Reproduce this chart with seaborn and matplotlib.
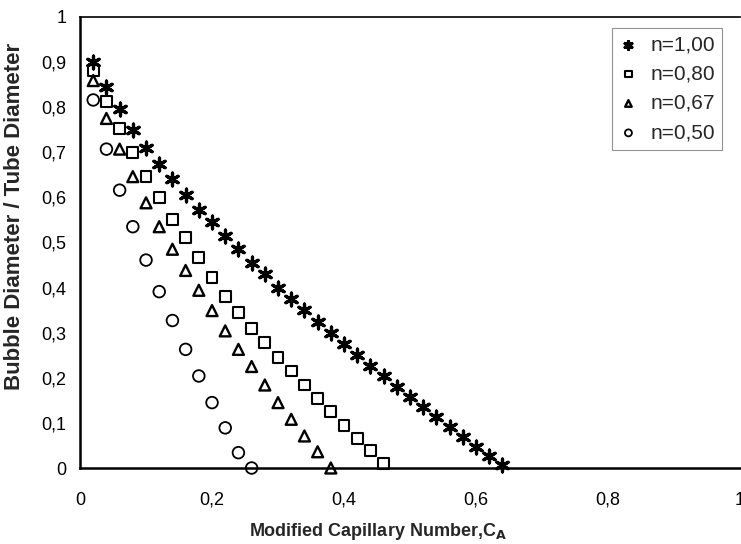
import numpy as np
import pandas as pd
import matplotlib
matplotlib.use("Agg")
import matplotlib.pyplot as plt
import seaborn as sns
from matplotlib.ticker import FuncFormatter

# Data
ca_100 = [0.02, 0.04, 0.06, 0.08, 0.10, 0.12, 0.14, 0.16, 0.18, 0.20, 0.22, 0.24, 0.26, 0.28, 0.30, 0.32,
          0.34, 0.36, 0.38, 0.40, 0.42, 0.44, 0.46, 0.48, 0.50, 0.52, 0.54, 0.56, 0.58, 0.60, 0.62, 0.64]
ratio_100 = [0.90, 0.845, 0.797, 0.75, 0.71, 0.675, 0.64, 0.605, 0.573, 0.545, 0.515, 0.485, 0.455, 0.43, 0.40, 0.375,
             0.35, 0.324, 0.299, 0.274, 0.25, 0.227, 0.204, 0.18, 0.158, 0.136, 0.114, 0.092, 0.069, 0.047, 0.027, 0.007]

ca_080 = [0.02, 0.04, 0.06, 0.08, 0.10, 0.12, 0.14, 0.16, 0.18, 0.20, 0.22, 0.24,
          0.26, 0.28, 0.30, 0.32, 0.34, 0.36, 0.38, 0.40, 0.42, 0.44, 0.46]
ratio_080 = [0.881, 0.812, 0.753, 0.70, 0.647, 0.60, 0.552, 0.511, 0.466, 0.422, 0.381, 0.344,
             0.31, 0.278, 0.245, 0.215, 0.184, 0.154, 0.125, 0.095, 0.066, 0.038, 0.010]

ca_067 = [0.02, 0.04, 0.06, 0.08, 0.10, 0.12, 0.14, 0.16, 0.18, 0.20,
          0.22, 0.24, 0.26, 0.28, 0.30, 0.32, 0.34, 0.36, 0.38]
ratio_067 = [0.859, 0.775, 0.707, 0.646, 0.588, 0.535, 0.485, 0.438, 0.394, 0.349,
             0.304, 0.263, 0.225, 0.184, 0.145, 0.108, 0.071, 0.036, 0.0]

ca_050 = [0.02, 0.04, 0.06, 0.08, 0.10, 0.12, 0.14, 0.16, 0.18, 0.20, 0.22, 0.24, 0.26]
ratio_050 = [0.816, 0.707, 0.616, 0.535, 0.461, 0.391, 0.327, 0.263, 0.204, 0.145, 0.089, 0.034, 0.0]

labels = ["n=1,00", "n=0,80", "n=0,67", "n=0,50"]

sns.set_theme(style="white")
plt.rcParams["font.family"] = ["Liberation Sans", "DejaVu Sans"]

fig = plt.figure(figsize=(7.41, 5.44), dpi=100)
ax = fig.add_axes([0.108, 0.1397, 0.8907, 0.8291])

# n=1,00 asterisk (line marker)
sns.scatterplot(x=ca_100, y=ratio_100, ax=ax, marker=(6, 2, 0), s=85, color="black",
                linewidth=2.3, label=labels[0], clip_on=False, zorder=3)
sns.scatterplot(x=ca_080, y=ratio_080, ax=ax, marker="s", s=62, facecolor="none",
                edgecolor="black", linewidth=1.5, label=labels[1], clip_on=False, zorder=3)
sns.scatterplot(x=ca_067, y=ratio_067, ax=ax, marker="^", s=62, facecolor="none",
                edgecolor="black", linewidth=1.7, label=labels[2], clip_on=False, zorder=3)
sns.scatterplot(x=ca_050, y=ratio_050, ax=ax, marker="o", s=70, facecolor="none",
                edgecolor="black", linewidth=1.3, label=labels[3], clip_on=False, zorder=3)

ax.set_xlim(0, 1)
ax.set_ylim(0, 1)
ax.set_xticks(np.arange(0, 1.01, 0.2))
ax.set_yticks(np.arange(0, 1.01, 0.1))
fmt = FuncFormatter(lambda v, p: ("%g" % round(v, 2)).replace(".", ","))
ax.xaxis.set_major_formatter(fmt)
ax.yaxis.set_major_formatter(fmt)
ax.tick_params(axis="both", direction="out", length=4, width=0.8, color="#666666",
               labelsize=13, pad=6, labelcolor="black")
ax.tick_params(axis="x", pad=13)

for side in ["left", "bottom"]:
    ax.spines[side].set_linewidth(1.8)
    ax.spines[side].set_color("black")
ax.spines["top"].set_linewidth(1.2)
ax.spines["top"].set_color("black")
ax.spines["right"].set_visible(False)

ax.set_xlabel("Modified Capillary Number,C$_\\mathbf{A}$", fontsize=13, fontweight="bold")
ax.set_ylabel("Bubble Diameter / Tube Diameter", fontsize=16, fontweight="bold")
ax.xaxis.set_label_coords(0.452, -0.118)
ax.yaxis.set_label_coords(-0.084, 0.557)

leg = ax.legend(loc="upper right", bbox_to_anchor=(0.973, 0.976), borderaxespad=0, fontsize=15,
                frameon=True, fancybox=False, edgecolor="#777777", markerscale=0.6,
                handletextpad=0.6, borderpad=0.35, labelspacing=0.5, handlelength=0.9)
leg.get_frame().set_linewidth(0.8)

fig.savefig("out.png", dpi=100)
